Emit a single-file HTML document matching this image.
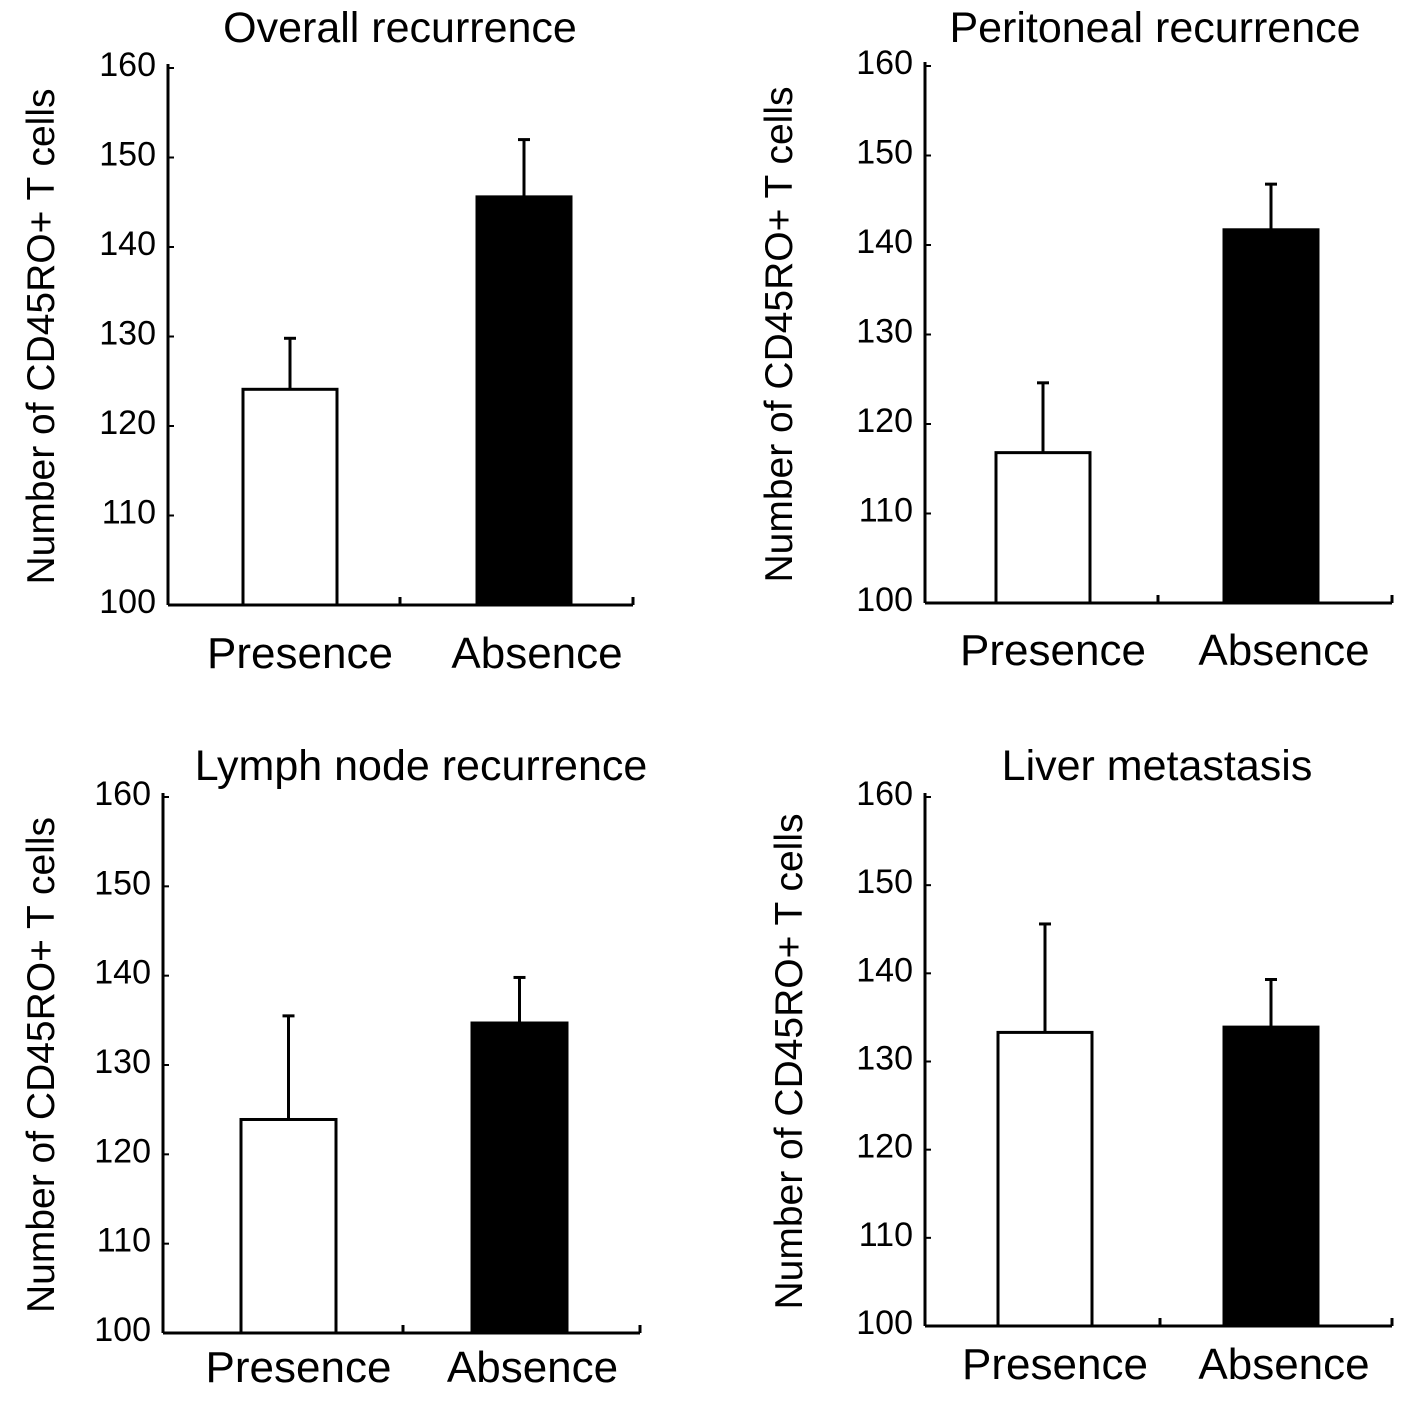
<!DOCTYPE html>
<html><head><meta charset="utf-8"><style>
body{margin:0;background:#fff;}
svg{display:block;font-family:"Liberation Sans",Arial,sans-serif;}
</style></head><body>
<svg id="chart" width="1419" height="1409" viewBox="0 0 1419 1409"></svg>
<script>
const panelTitles = ["Overall recurrence","Peritoneal recurrence","Lymph node recurrence","Liver metastasis"];
const categories = ["Presence","Absence"];
const presenceMeans = [124.1, 116.8, 123.9, 133.3];
const presenceErrors = [5.7, 7.8, 11.6, 12.3];
const absenceMeans = [145.6, 141.7, 134.7, 133.9];
const absenceErrors = [6.4, 5.1, 5.1, 5.4];
const yTicks = [100,110,120,130,140,150,160];
const yTitle = "Number of CD45RO+ T cells";

const layouts = [
  {ax:168, top:68, bot:605, right:633, mid:400, bars:[243,477], bw:94, titleX:400, titleY:42, ytX:40, catY:668},
  {ax:925, top:66, bot:603, right:1392, mid:1158, bars:[996,1224], bw:94, titleX:1155, titleY:42, ytX:778, catY:665},
  {ax:163, top:797, bot:1333, right:640, mid:403, bars:[241,472], bw:95, titleX:421, titleY:780, ytX:40, catY:1382},
  {ax:925, top:797, bot:1326, right:1392, mid:1160, bars:[998,1224], bw:94, titleX:1157, titleY:780, ytX:788, catY:1379}
];
const NS="http://www.w3.org/2000/svg";
const svg=document.getElementById('chart');
function mk(tag,attrs,parent){const e=document.createElementNS(NS,tag);for(const k in attrs)e.setAttribute(k,attrs[k]);(parent||svg).appendChild(e);return e;}

layouts.forEach((L,i)=>{
  const g=mk('g',{});
  
  
  const y=v=>L.bot-(v-100)/60*(L.bot-L.top);
  const t=mk('text',{x:L.titleX,y:L.titleY,'text-anchor':'middle','font-size':43},g);
  t.textContent=panelTitles[i];
  
  
  const yt=mk('text',{x:0,y:0,'text-anchor':'middle','font-size':39,transform:`translate(${L.ytX+14},${(L.top+L.bot)/2}) rotate(-90)`},g);
  yt.textContent=yTitle;
  
  
  const ya=mk('line',{x1:L.ax,y1:L.top-4,x2:L.ax,y2:L.bot,stroke:'#000','stroke-width':3},g);
  
  
  const xa=mk('line',{x1:L.ax,y1:L.bot,x2:L.right,y2:L.bot,stroke:'#000','stroke-width':3},g);
  
  
  [L.mid,L.right].forEach(tx=>{mk('line',{x1:tx,y1:L.bot,x2:tx,y2:L.bot-8,stroke:'#000','stroke-width':3},g);});
  yTicks.forEach(v=>{
    mk('line',{x1:L.ax,y1:y(v),x2:L.ax+6,y2:y(v),stroke:'#000','stroke-width':2},g);
    const tl=mk('text',{x:L.ax-12,y:y(v)+8,'text-anchor':'end','font-size':34},g);
    tl.textContent=v;
    
    
  });
  const means=[presenceMeans[i],absenceMeans[i]], errs=[presenceErrors[i],absenceErrors[i]];
  categories.forEach((c,j)=>{
    const bx=L.bars[j], cx=bx+L.bw/2;
    const el=mk('line',{x1:cx,y1:y(means[j]),x2:cx,y2:y(means[j]+errs[j]),stroke:'#000','stroke-width':3},g);
    
    
    mk('line',{x1:cx-6,y1:y(means[j]+errs[j]),x2:cx+6,y2:y(means[j]+errs[j]),stroke:'#000','stroke-width':3},g);
    const r=mk('rect',{x:bx,y:y(means[j]),width:L.bw,height:L.bot-y(means[j]),fill:j?'#000':'#fff',stroke:'#000','stroke-width':3},g);
    
    
    const cl=mk('text',{x:cx+(j?13:10),y:L.catY,'text-anchor':'middle','font-size':44},g);
    cl.textContent=c;
    
    
  });
});
</script>
</body></html>
